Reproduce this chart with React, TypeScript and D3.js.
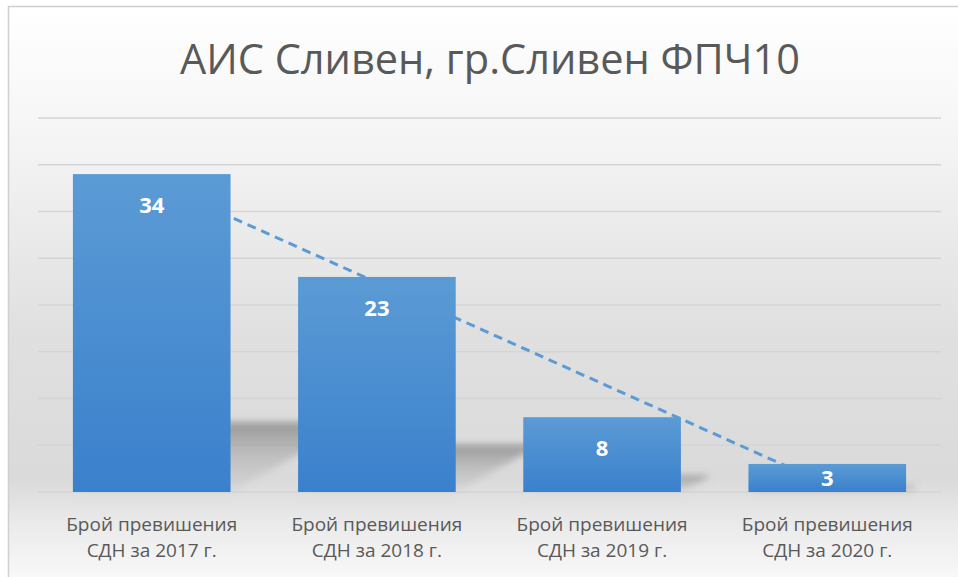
import { useEffect, useRef } from "react"
import * as d3 from "d3"

// data
const categories = [
  ["Брой превишения", "СДН за 2017 г."],
  ["Брой превишения", "СДН за 2018 г."],
  ["Брой превишения", "СДН за 2019 г."],
  ["Брой превишения", "СДН за 2020 г."],
]
const values = [34, 23, 8, 3]
const yTicks = [0, 5, 10, 15, 20, 25, 30, 35, 40]
const title = "АИС Сливен, гр.Сливен ФПЧ10"

export default function App() {
  const svgRef = useRef<SVGSVGElement>(null)

  useEffect(() => {
    if (!svgRef.current) return
    const svg = d3.select(svgRef.current)
    svg.selectAll("*").remove()

    const W = 958
    const H = 577
    const font = "'Open Sans', 'Noto Sans', sans-serif"
    const keys = categories.map((_, i) => String(i))

    const x = d3.scaleBand<string>().domain(keys).range([38, 941]).paddingInner(0.3).paddingOuter(0.155)
    const y = d3.scaleLinear().domain([0, 40]).range([492, 118])

    const defs = svg.append("defs")

    const bg = defs.append("linearGradient").attr("id", "bg").attr("x1", 0).attr("y1", 0).attr("x2", 0).attr("y2", 1)
    bg.append("stop").attr("offset", "0").attr("stop-color", "#ffffff")
    bg.append("stop").attr("offset", "0.2").attr("stop-color", "#f6f6f6")
    bg.append("stop").attr("offset", "0.55").attr("stop-color", "#e0e0e0")
    bg.append("stop").attr("offset", "0.8").attr("stop-color", "#dadada")
    bg.append("stop").attr("offset", "0.88").attr("stop-color", "#ebebeb")
    bg.append("stop").attr("offset", "1").attr("stop-color", "#fdfdfd")

    const barGrad = defs.append("linearGradient").attr("id", "barGrad").attr("x1", 0).attr("y1", 0).attr("x2", 0).attr("y2", 1)
    barGrad.append("stop").attr("offset", "0").attr("stop-color", "#5b9bd5")
    barGrad.append("stop").attr("offset", "1").attr("stop-color", "#3a80cc")

    const shGrad = defs.append("linearGradient").attr("id", "shGrad").attr("x1", 0).attr("y1", 0).attr("x2", 0).attr("y2", 1)
    shGrad.append("stop").attr("offset", "0").attr("stop-color", "#6a6a6a").attr("stop-opacity", 0.6)
    shGrad.append("stop").attr("offset", "0.5").attr("stop-color", "#808080").attr("stop-opacity", 0.3)
    shGrad.append("stop").attr("offset", "1").attr("stop-color", "#909090").attr("stop-opacity", 0.08)

    defs.append("filter").attr("id", "blur").attr("x", "-20%").attr("y", "-20%").attr("width", "140%").attr("height", "140%")
      .append("feGaussianBlur").attr("stdDeviation", 3.5)

    // chart area
    svg.append("rect")
      .attr("x", 8.5).attr("y", 6.5).attr("width", 970).attr("height", 590)
      .attr("fill", "url(#bg)").attr("stroke", "#d0d0d0").attr("stroke-width", 1.5)

    svg.append("text")
      .attr("x", 490).attr("y", 74)
      .attr("text-anchor", "middle")
      .attr("font-family", font).attr("font-size", 41.5)
      .attr("fill", "#595959")
      .text(title)

    // gridlines
    svg.append("g")
      .selectAll("line")
      .data(yTicks)
      .join("line")
      .attr("x1", 38).attr("x2", 941)
      .attr("y1", (d) => y(d)).attr("y2", (d) => y(d))
      .attr("stroke", "#d4d4d4").attr("stroke-width", 1.5)

    // perspective shadows
    const base = y(0)
    svg.append("g")
      .attr("filter", "url(#blur)")
      .selectAll("polygon")
      .data(values)
      .join("polygon")
      .attr("fill", "url(#shGrad)")
      .attr("points", (d, i) => {
        const x0 = x(String(i))!
        const x1 = x0 + x.bandwidth()
        const hh = (base - y(d)) * 0.22
        const dx = hh * 1.8
        return [[x0, base], [x1, base], [x1 + dx, base - hh], [x0 + dx, base - hh]].map((p) => p.join(",")).join(" ")
      })

    // linear trend
    const n = values.length
    const mx = d3.mean(values, (_, i) => i)!
    const my = d3.mean(values)!
    const slope = d3.sum(values, (v, i) => (i - mx) * (v - my)) / d3.sum(values, (_, i) => (i - mx) ** 2)
    const trend = d3.range(n).map((i) => ({ i, v: my + slope * (i - mx) }))
    const trendLine = d3.line<{ i: number; v: number }>()
      .x((d) => x(String(d.i))! + x.bandwidth() / 2)
      .y((d) => y(d.v))

    svg.append("path")
      .datum([trend[0], trend[n - 1]])
      .attr("fill", "none")
      .attr("stroke", "#5b9bd5")
      .attr("stroke-width", 3)
      .attr("stroke-dasharray", "9,6")
      .attr("d", trendLine)

    // bars
    svg.append("g")
      .selectAll("rect")
      .data(values)
      .join("rect")
      .attr("x", (_, i) => x(String(i))!)
      .attr("y", (d) => y(d))
      .attr("width", x.bandwidth())
      .attr("height", (d) => base - y(d))
      .attr("fill", "url(#barGrad)")

    // data labels
    svg.append("g")
      .selectAll("text")
      .data(values)
      .join("text")
      .attr("x", (_, i) => x(String(i))! + x.bandwidth() / 2)
      .attr("y", (d) => {
        const h = base - y(d)
        return h > 62 ? y(d) + 31 : y(d) + h / 2
      })
      .attr("dy", "0.35em")
      .attr("text-anchor", "middle")
      .attr("font-family", font).attr("font-weight", 700).attr("font-size", 22)
      .attr("fill", "#ffffff")
      .text((d) => d)

    // category labels
    const cat = svg.append("g")
      .selectAll("text")
      .data(categories)
      .join("text")
      .attr("x", (_, i) => x(String(i))! + x.bandwidth() / 2)
      .attr("y", 531)
      .attr("text-anchor", "middle")
      .attr("font-family", font).attr("font-size", 19)
      .attr("fill", "#595959")
    cat.selectAll("tspan")
      .data((d) => d)
      .join("tspan")
      .attr("x", function () {
        return (this.parentNode as SVGTextElement).getAttribute("x")
      })
      .attr("dy", (_, j) => (j === 0 ? 0 : 26))
      .text((d) => d)

    svg.attr("width", W).attr("height", H)
  }, [])

  return <svg ref={svgRef} width={958} height={577} style={{ position: "absolute", left: 0, top: 0 }} />
}
